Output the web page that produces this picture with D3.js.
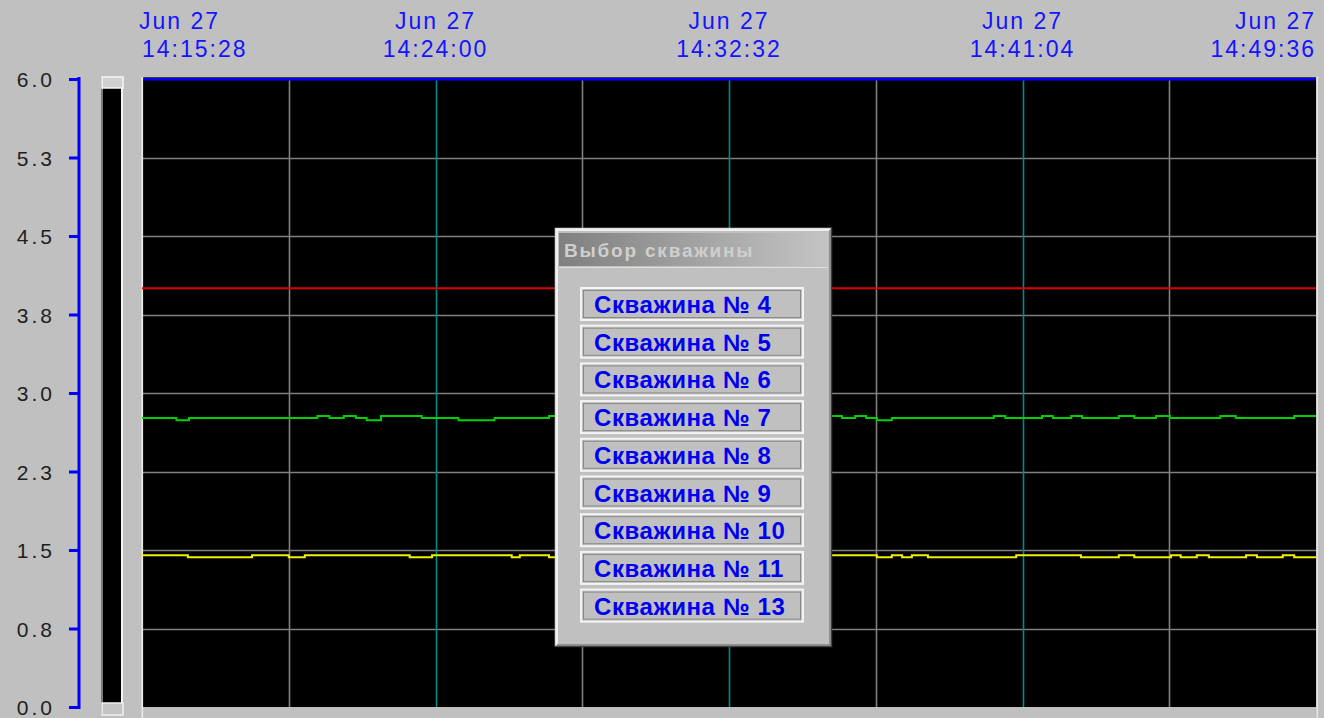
<!DOCTYPE html>
<html><head><meta charset="utf-8">
<script src="https://cdn.jsdelivr.net/npm/d3@7"></script>
<style>
html,body{margin:0;padding:0;background:#c0c0c0;overflow:hidden;}
svg{display:block;}
</style></head>
<body>
<svg id="chart" width="1324" height="718"></svg>
<script>
// ---------- data ----------
const timeDomain = ["14:15:28", "14:49:36"];
const xGridTimes = ["14:15:28","14:19:44","14:24:00","14:28:16","14:32:32","14:36:48","14:41:04","14:45:20","14:49:36"];
const xLabelTimes = ["14:15:28","14:24:00","14:32:32","14:41:04","14:49:36"];
const xLabelDate = "Jun 27";
const yTicks = [0, 0.75, 1.5, 2.25, 3.0, 3.75, 4.5, 5.25, 6.0];
const yTickLabels = ["0.0","0.8","1.5","2.3","3.0","3.8","4.5","5.3","6.0"];

const redTimes = ["14:15:28","14:49:36"];
const redValues = [4.0, 4.0];

const greenTimes = ["14:15:28","14:16:28","14:16:50","14:20:34","14:20:55","14:21:20","14:21:41","14:22:00","14:22:25","14:23:36","14:24:40","14:25:43","14:27:18","14:31:41","14:34:36","14:35:49","14:36:12","14:36:31","14:36:50","14:37:16","14:40:14","14:40:34","14:41:38","14:41:57","14:42:29","14:42:48","14:43:52","14:44:19","14:44:57","14:45:21","14:46:49","14:47:16","14:48:58","14:49:36"];
const greenValues = [2.76,2.74,2.76,2.78,2.76,2.78,2.76,2.74,2.78,2.76,2.74,2.76,2.78,2.76,2.78,2.76,2.78,2.76,2.74,2.76,2.78,2.76,2.78,2.76,2.78,2.76,2.78,2.76,2.78,2.76,2.78,2.76,2.78,2.78];

const yellowTimes = ["14:15:28","14:16:48","14:18:40","14:19:44","14:20:12","14:23:15","14:23:54","14:26:13","14:26:27","14:27:18","14:29:22","14:36:50","14:37:16","14:37:34","14:37:51","14:38:19","14:40:53","14:42:46","14:43:52","14:44:19","14:45:23","14:45:40","14:46:08","14:46:29","14:47:34","14:47:53","14:48:38","14:48:58","14:49:36"];
const yellowValues = [1.45,1.43,1.45,1.43,1.45,1.43,1.45,1.43,1.45,1.43,1.45,1.43,1.45,1.43,1.45,1.43,1.45,1.43,1.45,1.43,1.45,1.43,1.45,1.43,1.45,1.43,1.45,1.43,1.43];

const dialogTitle = "Выбор скважины";
const wells = ["Скважина № 4","Скважина № 5","Скважина № 6","Скважина № 7","Скважина № 8","Скважина № 9","Скважина № 10","Скважина № 11","Скважина № 13"];

// ---------- layout ----------
const svg = d3.select("#chart");
const parse = d3.timeParse("%H:%M:%S");
const plot = {left: 143, right: 1316, top: 79, bottom: 707};

const x = d3.scaleTime().domain(timeDomain.map(parse)).range([plot.left - 1, plot.right]);
const y = d3.scaleLinear().domain([0, 6]).range([plot.bottom, plot.top]);

// plot background
svg.append("rect").attr("x", plot.left).attr("y", plot.top - 2)
  .attr("width", plot.right - plot.left).attr("height", plot.bottom - plot.top + 2).attr("fill", "#000");

// horizontal grid
svg.append("g").selectAll("line").data(yTicks.filter(d => d > 0 && d < 6)).join("line")
  .attr("x1", plot.left).attr("x2", plot.right)
  .attr("y1", d => Math.round(y(d)) + 0.5).attr("y2", d => Math.round(y(d)) + 0.5)
  .attr("stroke", "#808080").attr("stroke-width", 1.6);

// vertical grid
svg.append("g").selectAll("line").data(xGridTimes.slice(1, -1)).join("line")
  .attr("x1", d => Math.round(x(parse(d))) + 0.5).attr("x2", d => Math.round(x(parse(d))) + 0.5)
  .attr("y1", plot.top).attr("y2", plot.bottom)
  .attr("stroke", (d, i) => i % 2 === 0 ? "#808080" : "#008a8a").attr("stroke-width", 1.6);

// top border (blue) and edges
svg.append("rect").attr("x", plot.left).attr("y", plot.top - 2).attr("width", plot.right - plot.left).attr("height", 1).attr("fill", "#404040");
svg.append("rect").attr("x", plot.left).attr("y", plot.top - 1).attr("width", plot.right - plot.left).attr("height", 2.5).attr("fill", "#0000f0");
svg.append("rect").attr("x", plot.left - 1.5).attr("y", plot.top - 2).attr("width", 1.6).attr("height", 718 - plot.top + 2).attr("fill", "#ececec");
svg.append("rect").attr("x", plot.right + 0.5).attr("y", plot.top - 2).attr("width", 1.6).attr("height", 718 - plot.top + 2).attr("fill", "#e4e4e4");

// series
const line = d3.line().x(d => x(d.t)).y(d => y(d.v)).curve(d3.curveStepAfter);
function series(times, values, color, w) {
  const data = times.map((t, i) => ({t: parse(t), v: values[i]}));
  svg.append("path").datum(data).attr("d", line).attr("fill", "none")
    .attr("stroke", color).attr("stroke-width", w);
}
series(redTimes, redValues, "#e00000", 2);
series(greenTimes, greenValues, "#00d000", 2);
series(yellowTimes, yellowValues, "#f0f000", 2);

// y axis
const yAxis = d3.axisLeft(y).tickValues(yTicks).tickFormat((d, i) => yTickLabels[i])
  .tickSizeInner(10).tickSizeOuter(0).tickPadding(14);
const ya = svg.append("g").attr("transform", "translate(79,0)").call(yAxis);
ya.select(".domain").attr("stroke", "#0000ff").attr("stroke-width", 3)
  .attr("d", `M0,${plot.top - 2}V${plot.bottom + 2}`);
ya.selectAll(".tick line").attr("stroke", "#0000ff").attr("stroke-width", 3);
ya.selectAll(".tick text").attr("fill", "#1e1e1e")
  .style("font-family", "'Liberation Sans', Arial, sans-serif").style("font-size", "21px")
  .style("letter-spacing", "3px").attr("dy", "0.38em");

// scrollbar
const sb = svg.append("g");
sb.append("rect").attr("x", 102).attr("y", 77).attr("width", 21).attr("height", 638).attr("fill", "#000");
sb.append("rect").attr("x", 101).attr("y", 77).attr("width", 2).attr("height", 638).attr("fill", "#7a7a7a");
sb.append("rect").attr("x", 121).attr("y", 77).attr("width", 2).attr("height", 638).attr("fill", "#f4f4f4");
sb.append("rect").attr("x", 102).attr("y", 77).attr("width", 21).attr("height", 11).attr("fill", "#d0d0d0").attr("stroke", "#f8f8f8").attr("stroke-width", 1.5);
sb.append("rect").attr("x", 102).attr("y", 703).attr("width", 21).attr("height", 12).attr("fill", "#c4c4c4").attr("stroke", "#f0f0f0").attr("stroke-width", 1.5);

// top time labels
const tl = svg.append("g").selectAll("text").data(xLabelTimes).join("text")
  .attr("x", (d, i) => x(parse(d)) + (i === 0 ? -3 : 0))
  .attr("text-anchor", (d, i) => i === 0 ? "start" : (i === xLabelTimes.length - 1 ? "end" : "middle"))
  .attr("fill", "#1414ff")
  .style("font-family", "'Liberation Sans', Arial, sans-serif").style("font-size", "23px")
  .style("letter-spacing", "2px");
tl.append("tspan").attr("y", 29).text(xLabelDate);
tl.append("tspan").attr("x", d => x(parse(d))).attr("y", 57).text(d => d);

// dialog
const dlg = svg.append("g");
const D = {x: 555, y: 228, w: 277, h: 419};
dlg.append("rect").attr("x", D.x).attr("y", D.y).attr("width", D.w).attr("height", D.h).attr("fill", "#c0c0c0");
dlg.append("path").attr("d", `M${D.x + 0.5},${D.y + D.h}V${D.y + 0.5}H${D.x + D.w}`).attr("fill", "none").attr("stroke", "#dcdcdc").attr("stroke-width", 1.5);
dlg.append("path").attr("d", `M${D.x + 2},${D.y + D.h - 2}V${D.y + 2}H${D.x + D.w - 2}`).attr("fill", "none").attr("stroke", "#ffffff").attr("stroke-width", 1.5);
dlg.append("path").attr("d", `M${D.x},${D.y + D.h - 0.5}H${D.x + D.w - 0.5}V${D.y}`).attr("fill", "none").attr("stroke", "#404040").attr("stroke-width", 1.5);
dlg.append("path").attr("d", `M${D.x + 2},${D.y + D.h - 2}H${D.x + D.w - 2}V${D.y + 2}`).attr("fill", "none").attr("stroke", "#808080").attr("stroke-width", 1.5);

const defs = svg.append("defs");
const grad = defs.append("linearGradient").attr("id", "tb").attr("x1", "0").attr("x2", "1").attr("y1", "0").attr("y2", "0");
grad.append("stop").attr("offset", "0").attr("stop-color", "#808080");
grad.append("stop").attr("offset", "1").attr("stop-color", "#c4c4c4");
dlg.append("rect").attr("x", D.x + 4).attr("y", D.y + 5).attr("width", D.w - 8).attr("height", 33).attr("fill", "url(#tb)");
dlg.append("line").attr("x1", D.x + 4).attr("x2", D.x + D.w - 4).attr("y1", D.y + 39.5).attr("y2", D.y + 39.5).attr("stroke", "#e0e0e0");
dlg.append("text").attr("x", D.x + 9).attr("y", D.y + 29).attr("fill", "#cfcfcf")
  .style("font-family", "'Liberation Sans', Arial, sans-serif").style("font-size", "19px").style("font-weight", "bold")
  .style("letter-spacing", "1.8px").text(dialogTitle);

const btnY = d3.scaleBand().domain(wells).range([287, 287 + 37.7 * wells.length]).paddingInner(0);
const btn = dlg.selectAll("g.btn").data(wells).join("g").attr("class", "btn")
  .attr("transform", d => `translate(580,${btnY(d)})`);
btn.append("rect").attr("x", 1).attr("y", 1).attr("width", 222).attr("height", 32)
  .attr("fill", "#c0c0c0").attr("stroke", "#f4f4f4").attr("stroke-width", 2);
btn.append("rect").attr("x", 3.5).attr("y", 3.5).attr("width", 217).attr("height", 27)
  .attr("fill", "none").attr("stroke", "#8a8a8a").attr("stroke-width", 1);
btn.append("text").attr("x", 14).attr("y", 26).attr("fill", "#0000f0")
  .style("font-family", "'Liberation Sans', Arial, sans-serif").style("font-size", "24px").style("font-weight", "bold")
  .style("letter-spacing", "0.6px").text(d => d);
</script>
</body></html>
